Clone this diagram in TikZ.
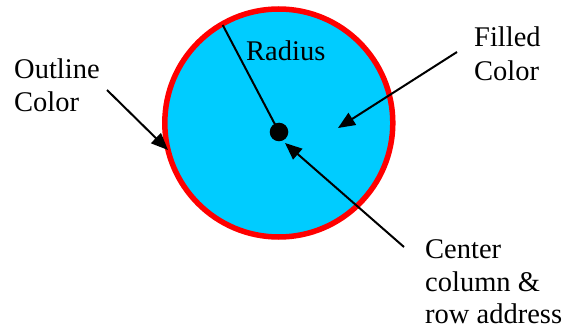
\documentclass[tikz,border=0pt]{standalone}
\usepackage{fontspec}
\setmainfont{Liberation Serif}
\usetikzlibrary{arrows.meta}
\definecolor{fillc}{RGB}{0,204,255}
\definecolor{outc}{RGB}{255,0,0}
\begin{document}
\begin{tikzpicture}[x=1pt,y=-1pt,
  lbl/.style={anchor=base west, inner sep=0pt, font=\fontsize{28.5}{33}\selectfont},
  pointer/.style={line width=2pt, -{Triangle[length=17pt,width=14pt]}},
  radline/.style={line width=2pt}]
\useasboundingbox (0,0) rectangle (567,331);
\node[circle, draw=outc, line width=5.5pt, fill=fillc, minimum size=228pt, inner sep=0pt] (c) at (278.8,123) {};
\node[circle, fill=black, minimum size=18.6pt, inner sep=0pt] (dot) at (279,132) {};
\coordinate (rtop) at (222.7,25);
\draw[radline] (dot.center) -- (rtop);
\node[lbl] (radius) at (246,61) {Radius};
\node[lbl] (out1) at (14,79) {Outline};
\node[lbl] (out2) at (14,111.7) {Color};
\node[lbl] (fil1) at (474,46.7) {Filled};
\node[lbl] (fil2) at (474,80.7) {Color};
\node[lbl] (cen1) at (425,258) {Center};
\node[lbl] (cen2) at (425,291) {column \&};
\node[lbl] (cen3) at (425,323.5) {row address};
\coordinate (oa) at (107,90);
\coordinate (ob) at (168,150);
\coordinate (fa) at (457,52);
\coordinate (fb) at (338,128);
\coordinate (ca) at (404,247);
\coordinate (cb) at (285,143);
\draw[pointer] (oa) -- (ob);
\draw[pointer] (fa) -- (fb);
\draw[pointer] (ca) -- (cb);
\end{tikzpicture}
\end{document}
